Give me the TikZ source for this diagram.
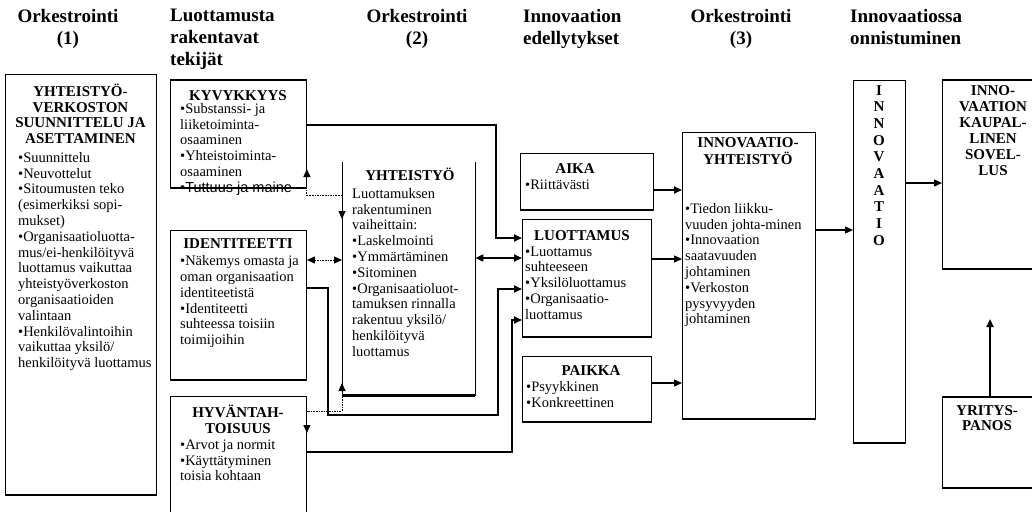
\documentclass[tikz,border=0pt]{standalone}
\usepackage{fontspec}
\setmainfont{Liberation Serif}
\newfontfamily\plainsans{Liberation Sans}
\usetikzlibrary{arrows.meta}

\newcommand\hdrfont{\fontsize{19}{22}\selectfont\bfseries}
\newcommand\bodyfont{\fontsize{14.5}{15.8}\selectfont}
\newcommand\ttlfont{\fontsize{15}{15.5}\selectfont\bfseries}

\begin{document}
\begin{tikzpicture}[x=1pt,y=-1pt,
  >={Triangle[length=8pt,width=7pt]},
  panel/.style={draw, line width=0.9pt, inner sep=0pt, anchor=north west,
    append after command={(\tikzlastnode.south west) edge[line width=2.6pt] (\tikzlastnode.south east)}},
  heavytop/.style={append after command={(\tikzlastnode.north west) edge[line width=2.4pt] (\tikzlastnode.north east)}},
  hdr/.style={inner sep=0pt, font=\hdrfont, execute at begin node={\rule{0pt}{16pt}}},
  ttl/.style={inner sep=0pt, anchor=north, align=center, font=\ttlfont, execute at begin node={\rule{0pt}{13pt}}},
  bdy/.style={inner sep=0pt, anchor=north west, align=left, font=\bodyfont, execute at begin node={\rule{0pt}{13pt}}},
  thk/.style={line width=1.9pt},
  med/.style={line width=1.3pt},
  dot/.style={line width=1pt, dash pattern=on 1.6pt off 1pt},
]
\useasboundingbox (0,0) rectangle (1032,511);
\fill[white] (0,0) rectangle (1032,511);
\clip (0,0) rectangle (1032,511);

% column headings
\node[hdr, anchor=north, align=center] (h1) at (68,9) {Orkestrointi\\(1)};
\node[hdr, anchor=north west, align=left] (h2) at (170,9) {Luottamusta\\rakentavat\\tekijät};
\node[hdr, anchor=north, align=center] (h3) at (417,9) {Orkestrointi\\(2)};
\node[hdr, anchor=north west, align=left] (h4) at (523,9) {Innovaation\\edellytykset};
\node[hdr, anchor=north, align=center] (h5) at (741,9) {Orkestrointi\\(3)};
\node[hdr, anchor=north west, align=left] (h6) at (850,9) {Innovaatiossa\\onnistuminen};

% boxes
\node[panel, minimum width=151pt, minimum height=420pt] (orc) at (5,74) {};
\node[panel, heavytop, minimum width=136pt, minimum height=107pt] (kyv) at (170,80) {};
\node[panel, minimum width=136pt, minimum height=149pt] (ide) at (170,230) {};
\node[panel, minimum width=136pt, minimum height=125pt] (hyv) at (170,396) {};
\node[inner sep=0pt, anchor=north west, minimum width=133pt, minimum height=233pt] (yht) at (342,162) {};
\draw[line width=0.9pt] (yht.north west) -- (yht.south west) -- (yht.south east) -- (yht.north east);
\draw[line width=2.6pt] (yht.south west) -- (yht.south east);
\node[panel, minimum width=133pt, minimum height=56pt] (aika) at (520,153) {};
\node[panel, minimum width=129pt, minimum height=117pt] (luo) at (522,219) {};
\node[panel, minimum width=129pt, minimum height=65pt] (pai) at (522,356) {};
\node[panel, minimum width=133pt, minimum height=286pt] (iy) at (682,132) {};
\node[panel, minimum width=52pt, minimum height=362pt] (inn) at (853,80) {};
\node[panel, heavytop, minimum width=100pt, minimum height=188pt] (kau) at (942,80) {};
\node[panel, heavytop, minimum width=100pt, minimum height=90pt] (yri) at (942,397) {};

% box titles
\node[ttl] (t1) at (80.5,84) {YHTEISTYÖ-\\VERKOSTON\\SUUNNITTELU JA\\ASETTAMINEN};
\node[ttl] (tk) at (238,87) {KYVYKKYYS};
\node[ttl] (ti) at (238,235) {IDENTITEETTI};
\node[ttl] (th) at (238,405) {HYVÄNTAH-\\TOISUUS};
\node[ttl] (ty) at (410,167) {YHTEISTYÖ};
\node[ttl] (ta) at (575,160) {AIKA};
\node[ttl] (tl) at (582,227) {LUOTTAMUS};
\node[ttl] (tp) at (591,362) {PAIKKA};
\node[ttl, font=\ttlfont\fontsize{15}{17}\selectfont] (tiy) at (748,137) {INNOVAATIO-\\YHTEISTYÖ};
\node[ttl, font=\ttlfont\fontsize{15}{16.7}\selectfont] (tin) at (879,85) {I\\N\\N\\O\\V\\A\\A\\T\\I\\O};
\node[ttl, font=\ttlfont\fontsize{15}{16}\selectfont] (tka) at (993,85) {INNO-\\VAATION\\KAUPAL-\\LINEN\\SOVEL-\\LUS};
\node[ttl] (tyr) at (987,405) {YRITYS-\\PANOS};

% box contents
\node[bdy] (b1) at (18,152) {•Suunnittelu\\•Neuvottelut\\•Sitoumusten teko\\(esimerkiksi sopi-\\mukset)\\•Organisaatioluotta-\\mus/ei-henkilöityvä\\luottamus vaikuttaa\\yhteistyöverkoston\\organisaatioiden\\valintaan\\•Henkilövalintoihin\\vaikuttaa yksilö/\\henkilöityvä luottamus};
\node[bdy] (bk) at (180,103) {•Substanssi- ja\\liiketoiminta-\\osaaminen\\•Yhteistoiminta-\\osaaminen\\{\plainsans •Tuttuus ja maine}};
\node[bdy] (bi) at (180,255.5) {•Näkemys omasta ja\\oman organisaation\\identiteetistä\\•Identiteetti\\suhteessa toisiin\\toimijoihin};
\node[bdy] (bh) at (180,439.5) {•Arvot ja normit\\•Käyttätyminen\\toisia kohtaan};
\node[bdy] (by) at (352,188) {Luottamuksen\\rakentuminen\\vaiheittain:\\•Laskelmointi\\•Ymmärtäminen\\•Sitominen\\•Organisaatioluot-\\tamuksen rinnalla\\rakentuu yksilö/\\henkilöityvä\\luottamus};
\node[bdy] (ba) at (525,176) {•Riittävästi};
\node[bdy] (bl) at (525,246.5) {•Luottamus\\suhteeseen\\•Yksilöluottamus\\•Organisaatio-\\luottamus};
\node[bdy] (bp) at (526,381.5) {•Psyykkinen\\•Konkreettinen};
\node[bdy] (biy) at (685,203) {•Tiedon liikku-\\vuuden johta-minen\\•Innovaation\\saatavuuden\\johtaminen\\•Verkoston\\pysyvyyden\\johtaminen};

% bend points of the connectors
\coordinate (kA) at (496,125);
\coordinate (kB) at (496,238);
\coordinate (bY) at (500,258);
\coordinate (c1) at (328,288);
\coordinate (c2) at (328,415);
\coordinate (c3) at (498,415);
\coordinate (c4) at (498,289);
\coordinate (d1) at (512,452);
\coordinate (d2) at (512,320);
\coordinate (eT1) at (306,169);
\coordinate (e2) at (342,195);
\coordinate (eT2) at (342,219);
\coordinate (fY) at (320,260);
\coordinate (gT1) at (306,433);
\coordinate (g1) at (342,411);
\coordinate (gT2) at (342,383);
\coordinate (ra) at (660,190);
\coordinate (rl) at (660,259);
\coordinate (rp) at (660,383);
\coordinate (ri) at (830,230);
\coordinate (rk) at (920,183);
\coordinate (ry) at (990,319);

% trust builders -> trust
\draw[thk,->] (kyv.east |- kA) -- (kA) -- (kB) -- (luo.west |- kB);
\draw[thk,<->] (yht.east |- bY) -- (luo.west |- bY);
\draw[thk,->] (ide.east |- c1) -- (c1) -- (c2) -- (c3) -- (c4) -- (luo.west |- c4);
\draw[thk,->] (hyv.east |- d1) -- (d1) -- (d2) -- (luo.west |- d2);

% dotted links between trust builders and cooperation
\draw[dot,<->] (kyv.east |- eT1) |- (e2) -- (yht.west |- eT2);
\draw[dot,<->] (ide.east |- fY) -- (yht.west |- fY);
\draw[dot,<->] (hyv.east |- gT1) |- (g1) -- (yht.west |- gT2);

% prerequisites -> innovation cooperation -> innovation
\draw[thk,->] (aika.east |- ra) -- (iy.west |- ra);
\draw[med,->] (luo.east |- rl) -- (iy.west |- rl);
\draw[med,->] (pai.east |- rp) -- (iy.west |- rp);
\draw[med,->] (iy.east |- ri) -- (inn.west |- ri);
\draw[med,->] (inn.east |- rk) -- (kau.west |- rk);
\draw[thk,->] (yri.north -| ry) -- (ry);
\end{tikzpicture}
\end{document}
